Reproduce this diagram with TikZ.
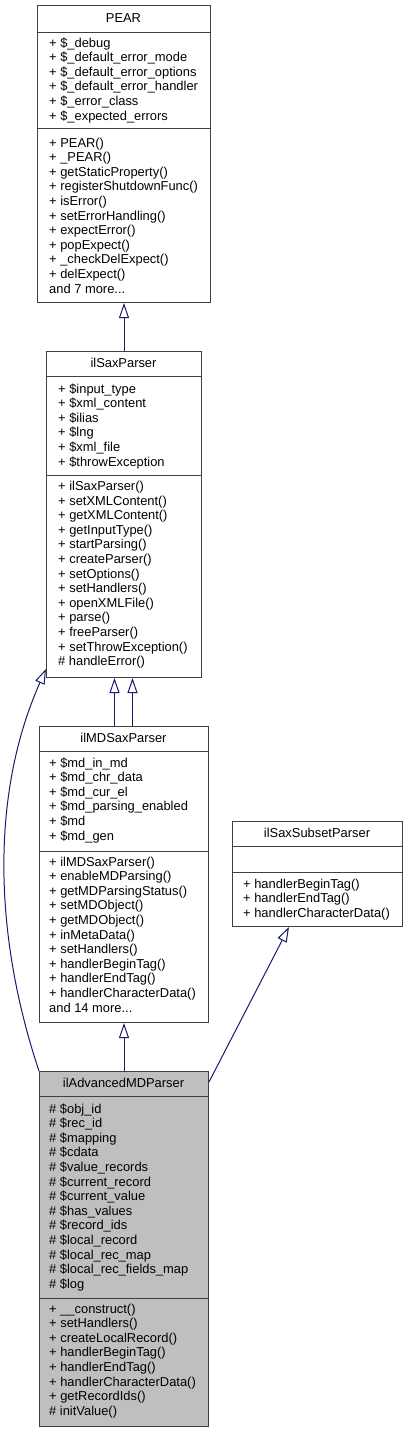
\documentclass[tikz,border=0pt]{standalone}
\usepackage{fontspec}
\setmainfont{Liberation Sans}
\usetikzlibrary{arrows.meta,calc}
\definecolor{edgec}{HTML}{191970}
\definecolor{framec}{HTML}{404040}
\definecolor{hlc}{HTML}{BFBFBF}
\tikzset{
  cls/.style={draw=framec, line width=1pt, rectangle, inner sep=0pt, anchor=north west},
  sepline/.style={draw=framec, line width=1pt},
  txt/.style={font=\fontsize{12.9}{14.6}\selectfont, inner sep=0pt, anchor=base west},
  ttl/.style={font=\fontsize{12.9}{14.6}\selectfont, inner sep=0pt, anchor=base},
  inh/.style={draw=edgec, line width=1pt, -{Triangle[open, length=15pt, width=10pt, fill=white]}},
}
\newcommand{\threedots}{...}
\newcommand{\mlist}[4]{%
  \foreach \t [count=\i from 0] in {#4} {\node[txt] (#1-\i) at (#2, {#3+4+\i*14.6}) {\t};}}
\begin{document}
\begin{tikzpicture}[x=1pt,y=-1pt]
\useasboundingbox (0,0) rectangle (407,1432);

% PEAR
\node[cls, fill=white, minimum width=173, minimum height=297] (pear) at (37,5) {};
\draw[sepline] (37,32) -- (210,32);
\draw[sepline] (37,128) -- (210,128);
\node[ttl] (pear-t) at (123.5,22.5) {PEAR};
\mlist{pa}{49}{43}{+ \$\_debug, + \$\_default\_error\_mode, + \$\_default\_error\_options, + \$\_default\_error\_handler, + \$\_error\_class, + \$\_expected\_errors}
\mlist{pm}{49}{143}{+ PEAR(), + \_PEAR(), + getStaticProperty(), + registerShutdownFunc(), + isError(), + setErrorHandling(), + expectError(), + popExpect(), + \_checkDelExpect(), + delExpect(), and 7 more\threedots}

% ilSaxParser
\node[cls, fill=white, minimum width=155, minimum height=326] (saxp) at (46,351) {};
\draw[sepline] (46,376) -- (201,376);
\draw[sepline] (46,475) -- (201,475);
\node[ttl] (saxp-t) at (123.5,367.5) {ilSaxParser};
\mlist{sa}{58}{389}{+ \$input\_type, + \$xml\_content, + \$ilias, + \$lng, + \$xml\_file, + \$throwException}
\mlist{sm}{58}{486.5}{+ ilSaxParser(), + setXMLContent(), + getXMLContent(), + getInputType(), + startParsing(), + createParser(), + setOptions(), + setHandlers(), + openXMLFile(), + parse(), + freeParser(), + setThrowException(), \# handleError()}

% ilMDSaxParser
\node[cls, fill=white, minimum width=169, minimum height=296] (mdsp) at (39,726) {};
\draw[sepline] (39,751) -- (208,751);
\draw[sepline] (39,851) -- (208,851);
\node[ttl] (mdsp-t) at (123.5,742.5) {ilMDSaxParser};
\mlist{ma}{49}{763}{+ \$md\_in\_md, + \$md\_chr\_data, + \$md\_cur\_el, + \$md\_parsing\_enabled, + \$md, + \$md\_gen}
\mlist{mm}{49}{862}{+ ilMDSaxParser(), + enableMDParsing(), + getMDParsingStatus(), + setMDObject(), + getMDObject(), + inMetaData(), + setHandlers(), + handlerBeginTag(), + handlerEndTag(), + handlerCharacterData(), and 14 more\threedots}

% ilSaxSubsetParser
\node[cls, fill=white, minimum width=170, minimum height=105] (ssp) at (232,821) {};
\draw[sepline] (232,846) -- (402,846);
\draw[sepline] (232,872) -- (402,872);
\node[ttl] (ssp-t) at (317,837.5) {ilSaxSubsetParser};
\mlist{ssm}{243}{884}{+ handlerBeginTag(), + handlerEndTag(), + handlerCharacterData()}

% ilAdvancedMDParser
\node[cls, fill=hlc, minimum width=169, minimum height=355] (adv) at (39,1071) {};
\draw[sepline] (39,1096) -- (208,1096);
\draw[sepline] (39,1298) -- (208,1298);
\node[ttl] (adv-t) at (123.5,1087.5) {ilAdvancedMDParser};
\mlist{aa}{49}{1109}{\# \$obj\_id, \# \$rec\_id, \# \$mapping, \# \$cdata, \# \$value\_records, \# \$current\_record, \# \$current\_value, \# \$has\_values, \# \$record\_ids, \# \$local\_record, \# \$local\_rec\_map, \# \$local\_rec\_fields\_map, \# \$log}
\mlist{am}{49}{1309}{+ \_\_construct(), + setHandlers(), + createLocalRecord(), + handlerBeginTag(), + handlerEndTag(), + handlerCharacterData(), + getRecordIds(), \# initValue()}

% inheritance connectors
\draw[inh] (saxp.north) -- (pear.south);
\draw[inh] ($(mdsp.north)+(-9.5,0)$) -- ($(saxp.south)+(-9.5,0)$);
\draw[inh] ($(mdsp.north)+(8.5,0)$) -- ($(saxp.south)+(8.5,0)$);
\draw[inh] (adv.north) -- (mdsp.south);
\draw[inh] ($(adv.north east)+(0,11)$) -- ($(ssp.south west)+(57,0)$);
\draw[inh] (adv.north west) .. controls (-8,930) and (-8,790) .. ($(saxp.south west)+(0,-9)$);
\end{tikzpicture}
\end{document}
